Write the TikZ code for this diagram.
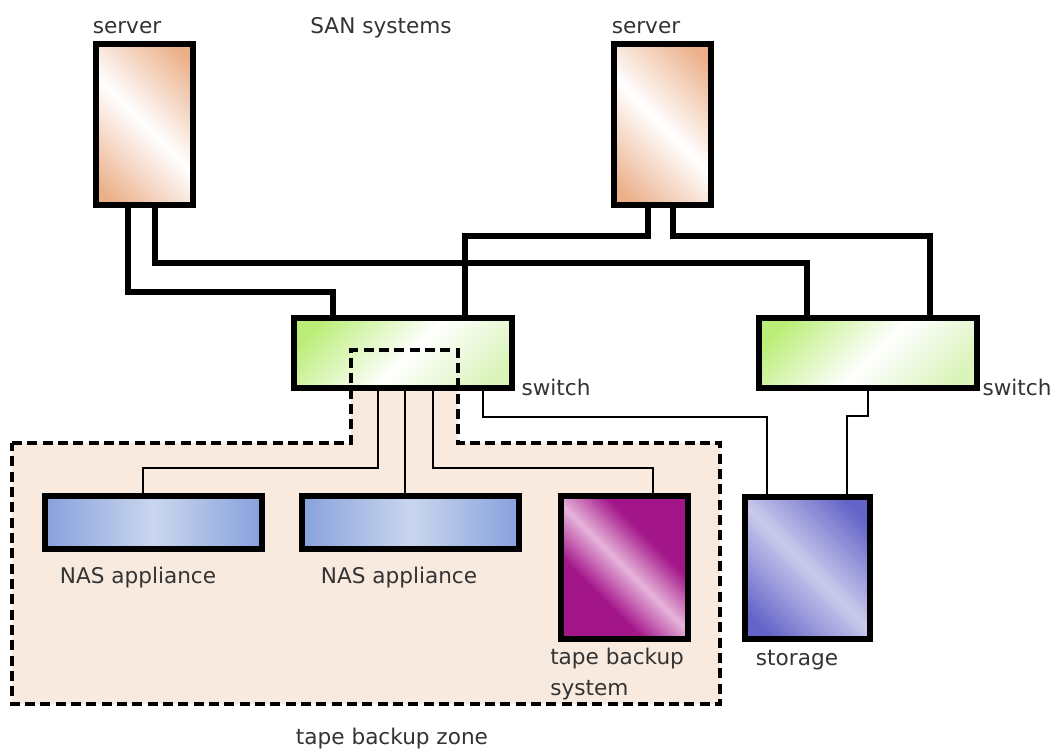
\documentclass[tikz,border=0pt]{standalone}
\usepackage{fontspec}
\setmainfont{DejaVu Sans}
\usetikzlibrary{calc}
\pgfdeclarelayer{background}
\pgfsetlayers{background,main}
\definecolor{srvc}{HTML}{EBB08A}
\definecolor{swc}{HTML}{BBEE78}
\definecolor{swc2}{HTML}{DAF4BA}
\definecolor{nasc}{HTML}{87A1DC}
\definecolor{nasm}{HTML}{CAD6EE}
\definecolor{tapec}{HTML}{A3168A}
\definecolor{tapem}{HTML}{E6B4DA}
\definecolor{storc}{HTML}{6464C8}
\definecolor{storm}{HTML}{CACAEC}
\definecolor{zonec}{HTML}{F9EADF}
\definecolor{txtc}{HTML}{333333}
\pgfdeclareverticalshading{tapeshade}{100bp}{color(0bp)=(tapec); color(36bp)=(tapec); color(50bp)=(tapem); color(64bp)=(tapec); color(100bp)=(tapec)}
\pgfdeclareverticalshading{srvshade}{100bp}{color(0bp)=(srvc); color(20bp)=(srvc); color(50bp)=(white); color(80bp)=(srvc); color(100bp)=(srvc)}
\pgfdeclareverticalshading{storshade}{100bp}{color(0bp)=(storc); color(22bp)=(storc); color(50bp)=(storm); color(78bp)=(storc); color(100bp)=(storc)}
\pgfdeclareverticalshading{swshade}{100bp}{color(0bp)=(swc2); color(22bp)=(swc2); color(48bp)=(white); color(78bp)=(swc); color(100bp)=(swc)}
\tikzset{
  box/.style={draw=black, line width=4.5pt, rectangle, inner sep=0pt, outer sep=0pt},
  serverbox/.style={box, minimum width=97*0.75pt, minimum height=161*0.75pt,
     shade, shading=srvshade, shading angle=-45},
  switchbox/.style={box, minimum width=218*0.75pt, minimum height=70*0.75pt,
     shade, shading=swshade, shading angle=45},
  nasbox/.style={box, minimum width=217*0.75pt, minimum height=53*0.75pt,
     left color=nasc, right color=nasc, middle color=nasm},
  tapebox/.style={box, minimum width=127*0.75pt, minimum height=143*0.75pt,
     shade, shading=tapeshade, shading angle=-45},
  storbox/.style={box, minimum width=125*0.75pt, minimum height=142*0.75pt,
     shade, shading=storshade, shading angle=-45},
  thickconn/.style={draw=black, line width=3.9pt},
  thinconn/.style={draw=black, line width=1.6pt},
  zone/.style={draw=black, line width=3.5pt, dash pattern=on 7.5pt off 4pt, line join=miter},
  lbl/.style={text=txtc, inner sep=0pt, anchor=base, font=\fontsize{16.2pt}{19pt}\selectfont},
  lbll/.style={lbl, anchor=base west}
}
\begin{document}
\begin{tikzpicture}[x=0.75pt,y=-0.75pt]
\useasboundingbox (0,0) rectangle (1053,750);
% nodes
\path (144,124.5) node[serverbox] (srvL) {};
\path (662,124.5) node[serverbox] (srvR) {};
\path (403,353) node[switchbox] (swL) {};
\path (868,353) node[switchbox] (swR) {};
\path (153.5,522.5) node[nasbox] (nas1) {};
\path (410.5,522.5) node[nasbox] (nas2) {};
\path (624.5,567.5) node[tapebox] (tape) {};
\path (807.5,568) node[storbox] (stor) {};
% background: white, zone fill and connectors
\begin{pgfonlayer}{background}
\fill[white] (0,0) rectangle (1053,750);
\fill[zonec] (12,443) -- (351,443) -- (351,350) -- (458,350) -- (458,443) -- (720,443) -- (720,704) -- (12,704) -- cycle;
\draw[thickconn] ([xshift=-12pt]srvL.south) -- ++(0,87) -| ([xshift=-52.5pt]swL.north);
\draw[thickconn] ([xshift=8.25pt]srvL.south) -- ++(0,58) -| ([xshift=-45.75pt]swR.north);
\draw[thickconn] ([xshift=-10.5pt]srvR.south) -- ++(0,31) -| ([xshift=46.5pt]swL.north);
\draw[thickconn] ([xshift=8.25pt]srvR.south) -- ++(0,31) -| ([xshift=46.5pt]swR.north);
\draw[thinconn] ([xshift=-18.75pt]swL.south) -- ++(0,80) -| ([xshift=-7.875pt]nas1.north);
\draw[thinconn] ([xshift=1.5pt]swL.south) -- ([xshift=1.5pt]swL.south |- nas2.north);
\draw[thinconn] ([xshift=22.5pt]swL.south) -- ++(0,80) -| ([xshift=21.375pt]tape.north);
\draw[thinconn] ([xshift=60pt]swL.south) -- ++(0,29) -| ([xshift=-30.375pt]stor.north);
\draw[thinconn] (swR.south) -- ++(0,28) -| ([xshift=29.625pt]stor.north);
\end{pgfonlayer}
% zone outline
\draw[zone] (12,443) -- (351,443) -- (351,350) -- (458,350) -- (458,443) -- (720,443) -- (720,704) -- (12,704) -- cycle;
% labels
\node[lbl] (lsrvL) at (127,33) {server};
\node[lbl] (ltitle) at (381,33) {SAN systems};
\node[lbl] (lsrvR) at (646,33) {server};
\node[lbl] (lswL) at (556,395) {switch};
\node[lbl] (lswR) at (1017,395) {switch};
\node[lbl] (lnas1) at (138,583) {NAS appliance};
\node[lbl] (lnas2) at (399,583) {NAS appliance};
\node[lbll] (ltape1) at (550,664) {tape backup};
\node[lbll] (ltape2) at (550,695) {system};
\node[lbl] (lstor) at (797,665) {storage};
\node[lbl] (lzone) at (392,744) {tape backup zone};
\end{tikzpicture}
\end{document}
